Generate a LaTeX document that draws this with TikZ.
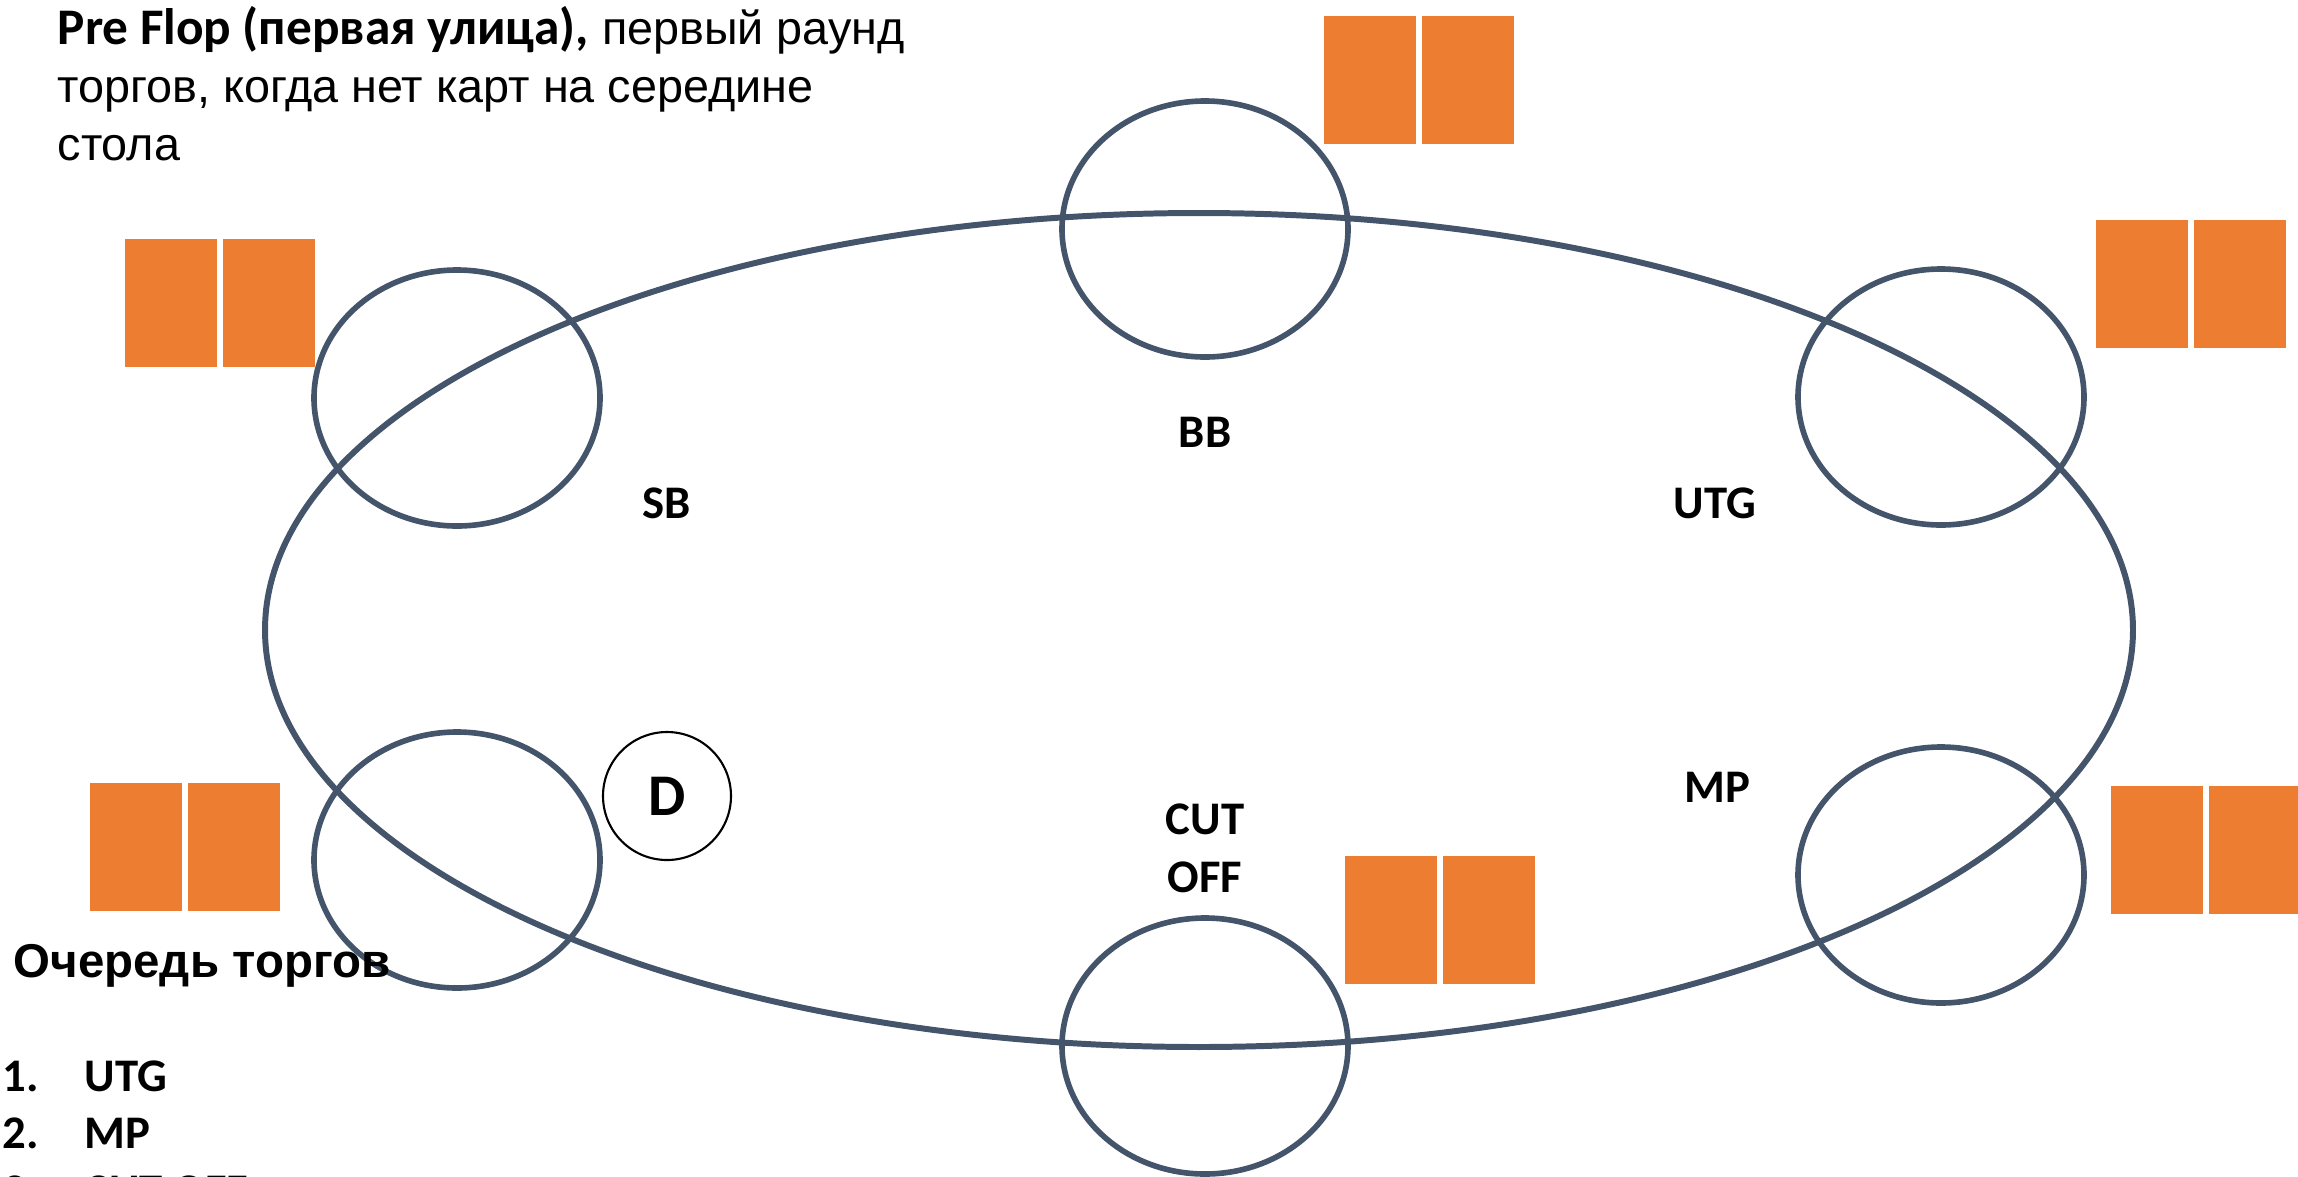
\documentclass[tikz,border=0pt]{standalone}
\usepackage{fontspec}
\setmainfont{Liberation Sans}
\newfontfamily\calibri{Carlito}
\usetikzlibrary{positioning,shapes.geometric}
\definecolor{tableline}{HTML}{44546A}
\definecolor{cardorange}{HTML}{ED7D31}

\begin{document}
\begin{tikzpicture}[
		x=0.1mm, y=-0.1mm,
		node distance=0.5mm,
		pokertable/.style = {draw=tableline, line width=1.7pt, ellipse, minimum width=186.8mm, minimum height=83.4mm, inner sep=0pt},
		seat/.style = {draw=tableline, line width=1.6pt, ellipse, minimum width=28.6mm, minimum height=25.6mm, inner sep=0pt},
		card/.style = {fill=cardorange, minimum width=9.2mm, minimum height=12.8mm, inner sep=0pt, anchor=north west},
		seatlabel/.style = {font=\calibri\bfseries\fontsize{13.3}{16.5}\selectfont, inner sep=0pt, anchor=base, align=center},
		orderitem/.style = {font=\calibri\bfseries\fontsize{13.3}{16}\selectfont, inner sep=0pt, anchor=base west}
	]
	\useasboundingbox (0,0) rectangle (2298,1176);
	\node[pokertable] (tbl) at (1199,630) {};
	% Seats.
	\node[seat] (sb) at (457,398) {};
	\node[seat] (bb) at (1205,229) {};
	\node[seat] (utg) at (1941,397) {};
	\node[seat] (btn) at (457,860) {};
	\node[seat] (co) at (1205,1046) {};
	\node[seat] (mp) at (1941,875) {};
	% Cards.
	\foreach \n/\x/\y in {sb/124/238, bb/1323/15, utg/2095/219, mp/2110/785, co/1344/855, btn/89/782} {
		\node[card] (\n1) at (\x,\y) {};
		\node[card, right=of \n1] (\n2) {};
	}
	% Labels.
	\node[seatlabel] (sbl) at (667,518) {SB};
	\node[seatlabel] (bbl) at (1205,447) {BB};
	\node[seatlabel] (utgl) at (1715,518) {UTG};
	\node[seatlabel] (mpl) at (1717,802) {MP};
	\node[seatlabel, anchor=center] (col) at (1205,848) {CUT\\OFF};
	\node[draw, circle, line width=0.6pt, minimum size=12.8mm, inner sep=0pt, font=\calibri\bfseries\fontsize{16.8}{20}\selectfont] (dealer) at (667,796) {D};
	% Text.
	\node[anchor=north west, inner sep=0pt, align=left, font=\fontsize{13.3}{16.5}\selectfont] (title) at (57,6) {{\calibri\bfseries\fontsize{14.6}{16.5}\selectfont Pre Flop (первая улица),} первый раунд\\торгов, когда нет карт на середине\\стола};
	\node[anchor=base west, inner sep=0pt, font=\bfseries\fontsize{13.5}{17}\selectfont] (queue) at (13,977) {Очередь торгов};
	\node[orderitem] (n1) at (2,1091) {1.};
	\node[orderitem] (o1) at (84,1091) {UTG};
	\node[orderitem] (n2) at (2,1148) {2.};
	\node[orderitem] (o2) at (84,1148) {MP};
	\node[orderitem] (n3) at (2,1206) {3.};
	\node[orderitem] (o3) at (84,1206) {CUT OFF};
\end{tikzpicture}
\end{document}
